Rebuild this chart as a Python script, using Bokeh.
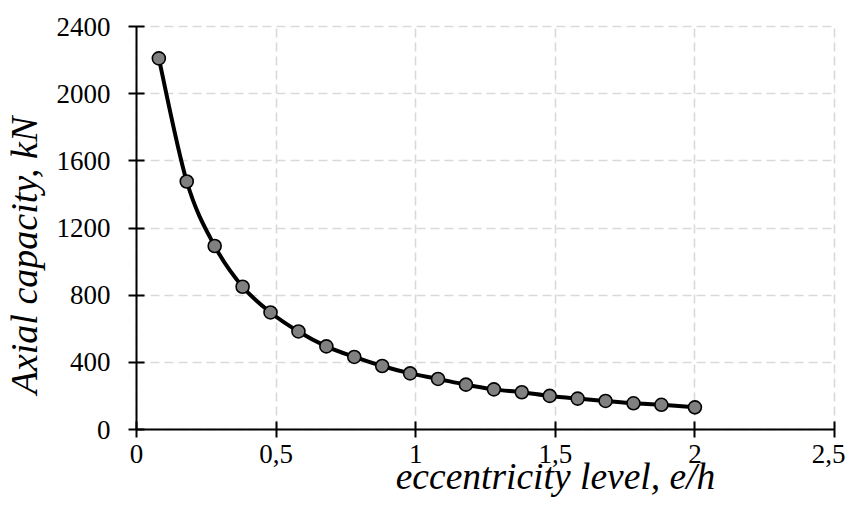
import numpy as np
from bokeh.plotting import figure
from bokeh.models import FixedTicker, Label, ColumnDataSource, Range1d
from bokeh.embed import file_html
from bokeh.resources import INLINE

# ---- data ----
ecc = [0.08, 0.18, 0.28, 0.38, 0.48, 0.58, 0.68, 0.78, 0.88, 0.98,
       1.08, 1.18, 1.28, 1.38, 1.48, 1.58, 1.68, 1.78, 1.88, 2.0]
capacity = [2210, 1477, 1093, 850, 697, 584, 495, 432, 378, 334,
            301, 267, 239, 222, 200, 184, 170, 156, 147, 132]

x_ticks = [0.0, 0.5, 1.0, 1.5, 2.0, 2.5]
x_tick_labels = ["0", "0,5", "1", "1,5", "2", "2,5"]
y_ticks = [0, 400, 800, 1200, 1600, 2000, 2400]
y_tick_labels = ["0", "400", "800", "1200", "1600", "2000", "2400"]
x_lim = (0.0, 2.5)
y_lim = (0, 2400)

x_title = "eccentricity level, e/h"
y_title = "Axial capacity, kN"

FONT = "Liberation Serif"

# ---- layout (pixels) ----
W, H = 845, 498
LEFT, RIGHT, TOP, BOTTOM = 136, 834, 26, 429   # where the axes box sits
XS = (RIGHT - LEFT) / (x_lim[1] - x_lim[0])
YS = (BOTTOM - TOP) / (y_lim[1] - y_lim[0])


def px_x(px):
    return x_lim[0] + (px - LEFT) / XS


def px_y(py):
    return y_lim[0] + (BOTTOM - py) / YS


p = figure(width=W, height=H,
           x_range=Range1d(px_x(0), px_x(W)),
           y_range=Range1d(px_y(H), px_y(0)),
           output_backend="svg", toolbar_location=None,
           min_border=0, min_border_left=0, min_border_right=0,
           min_border_top=0, min_border_bottom=0)
p.outline_line_color = None
p.background_fill_color = "white"
p.border_fill_color = "white"

for ax, ticks, labels, lim, loc in ((p.xaxis, x_ticks, x_tick_labels, x_lim, y_lim[0]),
                                    (p.yaxis, y_ticks, y_tick_labels, y_lim, x_lim[0])):
    ax.fixed_location = loc
    ax.bounds = lim
    ax.ticker = FixedTicker(ticks=ticks)
    ax.major_label_overrides = {float(t): l for t, l in zip(ticks, labels)}
    ax.axis_line_color = "black"
    ax.axis_line_width = 2
    ax.major_tick_line_color = "black"
    ax.major_tick_line_width = 2
    ax.major_tick_in = 8
    ax.major_tick_out = 8
    ax.minor_tick_line_color = None
    ax.major_label_text_font = FONT
    ax.major_label_text_font_size = "27px"
    ax.major_label_text_color = "black"

p.xaxis.major_label_standoff = 7
p.yaxis.major_label_standoff = 18

for g, cb in ((p.xgrid, y_lim), (p.ygrid, x_lim)):
    g.grid_line_color = "#d9d9d9"
    g.grid_line_width = 1.6
    g.grid_line_dash = "9 5"
    g.cross_bounds = cb
p.xgrid.bounds = x_lim
p.ygrid.bounds = y_lim

# smooth connecting curve (Catmull-Rom -> cubic Bezier) through the data points
xs = np.array(ecc, dtype=float)
ys = np.array(capacity, dtype=float)
xp = np.concatenate([[xs[0]], xs, [xs[-1]]])
yp = np.concatenate([[ys[0]], ys, [ys[-1]]])
n = len(xs)
seg = ColumnDataSource(dict(
    x0=xs[:-1], y0=ys[:-1], x1=xs[1:], y1=ys[1:],
    cx0=xs[:-1] + (xp[2:n + 1] - xp[0:n - 1]) / 6.0,
    cy0=ys[:-1] + (yp[2:n + 1] - yp[0:n - 1]) / 6.0,
    cx1=xs[1:] - (xp[3:n + 2] - xp[1:n]) / 6.0,
    cy1=ys[1:] - (yp[3:n + 2] - yp[1:n]) / 6.0,
))
p.bezier(x0="x0", y0="y0", x1="x1", y1="y1", cx0="cx0", cy0="cy0",
         cx1="cx1", cy1="cy1", source=seg, line_color="black", line_width=4)

p.scatter(ecc, capacity, size=13, fill_color="#808080",
          line_color="black", line_width=1.6)

p.add_layout(Label(x=px_x(555), y=px_y(476), text=x_title, text_font=FONT,
                   text_font_style="italic", text_font_size="37.5px",
                   text_color="black", text_align="center",
                   text_baseline="alphabetic"))
p.add_layout(Label(x=px_x(23), y=px_y(255), text=y_title, angle=np.pi / 2,
                   text_font=FONT, text_font_style="italic",
                   text_font_size="38px", text_color="black",
                   text_align="center", text_baseline="alphabetic"))

open("out.html", "w").write(file_html(p, INLINE))
